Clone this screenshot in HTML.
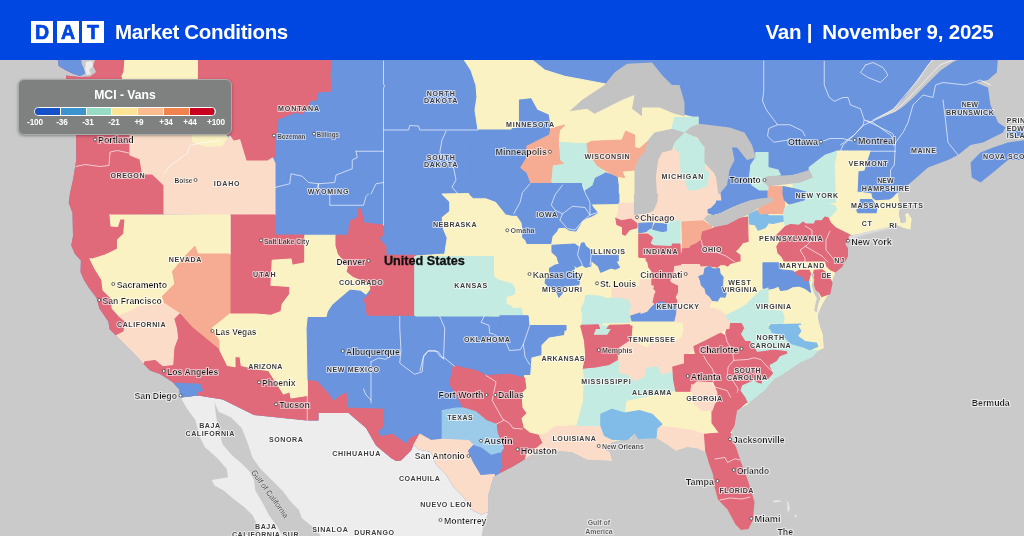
<!DOCTYPE html>
<html lang="en"><head><meta charset="utf-8"><title>DAT Market Conditions</title>
<style>
html,body{margin:0;padding:0;background:#cacaca;}
body{width:1024px;height:536px;overflow:hidden;position:relative;font-family:"Liberation Sans",sans-serif;}
#map{position:absolute;left:0;top:0;width:1024px;height:536px;display:block;}
#hdr{will-change:transform;position:absolute;left:0;top:0;width:1024px;height:60.4px;background:#0046e1;color:#fff;}
#hdr .logo{position:absolute;top:21px;height:22px;width:22px;background:#fff;color:#0046e1;font-weight:bold;font-size:19.5px;line-height:22.5px;text-align:center;-webkit-text-stroke:0.7px #0046e1;}
#hdr .t1{position:absolute;left:115px;top:18.5px;font-size:20.5px;font-weight:bold;line-height:26px;letter-spacing:-0.35px;white-space:nowrap;}
#hdr .t2{position:absolute;right:30.5px;top:18.5px;font-size:20.5px;font-weight:bold;line-height:26px;letter-spacing:-0.2px;white-space:nowrap;}
#leg{will-change:transform;position:absolute;left:18px;top:79px;width:212px;height:54px;background:#7f8181;border:1px solid #a9abab;border-radius:6px;box-shadow:0 1px 3px rgba(0,0,0,.35);color:#fff;}
#leg .ttl{position:absolute;left:0;width:212px;top:7px;text-align:center;font-weight:bold;font-size:12.2px;line-height:16px;}
#leg .bar{position:absolute;left:15px;top:27px;width:179.5px;height:7px;border:1px solid #fff;border-radius:5px;overflow:hidden;display:flex;}
#leg .bar i{display:block;flex:1;border-right:1px solid #fff;}
#leg .bar i:last-child{border-right:0;}
#leg .lb{position:absolute;top:38px;font-size:8.2px;font-weight:bold;line-height:10px;width:30px;margin-left:-14px;text-align:center;letter-spacing:-0.1px;}
svg text{font-family:"Liberation Sans",sans-serif;}
</style></head><body>
<svg id="map" viewBox="0 0 1024 536" width="1024" height="536">
<rect x="0" y="0" width="1024" height="536" fill="#cacaca"/>

<defs><filter id="halo" x="-10%" y="-40%" width="120%" height="180%"><feMorphology in="SourceAlpha" operator="dilate" radius="0.8" result="d"/><feGaussianBlur in="d" stdDeviation="0.4" result="b"/><feFlood flood-color="#fff" flood-opacity="0.6"/><feComposite in2="b" operator="in" result="h"/><feMerge><feMergeNode in="h"/><feMergeNode in="SourceGraphic"/></feMerge></filter><filter id="halo2" x="-10%" y="-40%" width="120%" height="180%"><feMorphology in="SourceAlpha" operator="dilate" radius="0.5" result="d"/><feGaussianBlur in="d" stdDeviation="0.3" result="b"/><feFlood flood-color="#fff" flood-opacity="0.6"/><feComposite in2="b" operator="in" result="h"/><feMerge><feMergeNode in="h"/><feMergeNode in="SourceGraphic"/></feMerge></filter><clipPath id="land">
<path d="M95,58 L93,66 L96,72 L90,76 L80,77 L66,75.5 L66,80 L68,100 L72,120 L76,134 L76.25,160 L73,180 L70,193 L68.75,203 L72.5,213 L73,236 L71.25,245.5 L75,254 L80.9,260.5 L80.5,272 L84,280 L88.7,287.4 L96.6,297.9 L99.2,308.3 L108.3,321.4 L109.6,329.2 L116.1,335.7 L125.3,344.9 L135.7,355.3 L143,363.5 L150,370.5 L160,374 L172.5,382 L179,389 L181,397.5 L198,395.5 L222.7,399.5 L254,415 L307,420.5 L318.5,420.5 L318.5,413 L348.5,413 L366,428 L376,445.5 L391,458 L396,461 L401,460.5 L411,450.5 L413.5,444.5 L418.5,449.5 L431,452 L436,464.5 L446,474.5 L453.5,487 L463.5,497 L471,509.5 L481,514.5 L488.5,512 L488.5,494.5 L493.5,477 L502,472 L512,467 L524.5,459.5 L537,452 L557,450.75 L572,452 L587,459.5 L612,460.75 L609.5,452 L604.5,449.5 L612,442 L629.5,439.5 L657,438.25 L667,444.5 L675.75,450.75 L687,447 L697,448.25 L705.75,452 L708.5,462 L713,474.5 L714.5,487 L718,499.5 L727.5,509.5 L735.5,524.5 L741,530 L748.5,529 L753,520 L754.5,502 L748.5,482 L741,462 L736,447 L730.5,437 L734.5,425.5 L737,410.5 L748.8,404 L750.4,401.5 L758.2,395.2 L764.5,390.5 L769.2,384.3 L775.4,378 L781.7,374.9 L791.1,368.6 L800.5,362.3 L811.5,357.6 L817.8,351.3 L824,348.2 L823.3,335.7 L820.5,328 L819,322 L818,316 L819,312 L823,303.5 L827,297 L830.5,293.5 L832,286 L833,278.5 L836,272 L842,267 L845.5,261 L848,256.5 L848,248 L845,244 L848,241.5 L849,235.5 L858,234.5 L872,231 L885.5,228.5 L896,225 L903,228 L910.5,230 L912,219 L908,212.5 L905,214 L906,222 L901,223 L899,214 L900.5,206.5 L898,194 L908,185 L928,167.5 L948,160 L958,155 L970.5,145 L983,142.5 L1003,132.5 L1005.5,127.5 L998,122.5 L990.5,105 L988,87.5 L975.5,82.5 L988,80 L996.75,72.5 L998,58Z"/>
<path d="M57.5,58 L58.75,66 L65,69.75 L72.5,73.5 L80,76 L85,73.5 L83.75,68.5 L81.25,63.5 L81.25,58Z"/>
<path d="M970.5,162.5 L980.5,152.5 L993,147.5 L1008,142.5 L1026,140 L1026,160 L1008,160 L993,172.5 L980.5,182.5 L971.75,177.5Z"/>
<path d="M1006,131 L1026,128 L1026,136 L1010,137Z"/>
</clipPath></defs>
<path d="M180.4,397.5 L198,395.5 L222.7,399.5 L254,415 L307,420.5 L318.5,420.5 L318.5,413 L348.5,413 L366,428 L376,445.5 L391,458 L396,461 L401,460.5 L411,450.5 L413.5,444.5 L418.5,449.5 L431,452 L436,464.5 L446,474.5 L453.5,487 L463.5,497 L471,509.5 L481,514.5 L488.5,512 L483.5,524.5 L481,540 L322,540 L320.8,536 L315.3,529 L308.5,523.5 L301.7,518.1 L299,509.9 L290.8,501.7 L282.6,490.8 L271.7,479.9 L260.8,469 L252.6,458.1 L247.2,441.8 L241.7,428.1 L230.8,417.2 L218.6,411.8 L214.5,402.3Z" fill="#ededed"/>
<path d="M180.4,396.8 L187.2,409 L195.4,420 L199.5,436.3 L205,447.2 L217.2,458 L226.8,469 L228,477.2 L211.8,480 L214.5,485.4 L224,490.8 L233.6,499 L244.5,507.2 L252.6,515.3 L258,526.2 L260.8,540 L284,540 L282.6,536 L277.2,526.2 L269,515.3 L263.5,504.4 L255.4,490.8 L254,479.9 L249.9,471.7 L241.7,463.6 L232.2,455.4 L222.7,444.5 L218.6,430.9 L215.9,414.5 L214.5,402.3 L200,397Z" fill="#ededed"/>
<g clip-path="url(#land)">
<rect x="0" y="0" width="1024" height="536" fill="#6b94de"/>
<path d="M463,58 L529.5,58 L544.5,70 L564.5,76.25 L604.5,83.75 L650,95 L675,113 L692,117 L712,150 L716,199 L708,210 L712.5,215 L740,204 L768,200 L775,190 L768,181 L809,172 L837,151 L870,151 L867,160 L864,170 L858,171 L857,192 L873,194 L875.5,199.5 L889,199 L893,196.5 L898,193 L1024,193 L1024,540 L539.5,540 L539.5,435.5 L529.5,433 L523.25,428 L520.75,418 L525.75,413 L522,408 L520.75,393 L525.75,388 L524.5,375.5 L530.75,375.5 L532,358 L542,355.5 L542,345.5 L549.5,338 L564.5,335.5 L566,325.5 L529,325.5 L529,315.8 L490,315.8 L490,258 L416,258 L416,256 L444.75,254 L447.25,237.75 L443.5,229 L442.25,217.75 L449.75,211.5 L449.75,201.5 L442.25,194 L470,193.5 L472,196 L490,196 L490,132 L478,130 L475,110 L477,97 L476,85 L471,70Z" fill="#fbf2c3" stroke="#fbf2c3" stroke-width="1.1" stroke-linejoin="round"/>
<path d="M55,58 L125,58 L124,72 L122,76 L128,100 L130,134 L130,155 L140,159 L142.5,174 L152.5,174 L164,185 L164,214 L110,214.5 L111,226 L117.5,226.5 L120,219 L125,219 L123.75,234 L117.5,240 L117.5,249 L110,252.75 L105,255 L92.5,259 L90,256.5 L95.2,269.2 L101.8,279.6 L103,290 L110.9,297.9 L112.2,308.3 L119,316 L125.3,321.4 L124,331.8 L116.1,335.7 L117.5,338 L100,337 L55,300Z" fill="#e0697a" stroke="#e0697a" stroke-width="1.1" stroke-linejoin="round"/>
<path d="M125,58 L198.5,58 L198.5,79 L225,134 L230,140 L222,147 L205,147 L192,143 L191,134 L130,134 L128,100 L122,76 L124,72Z" fill="#fbf2c3" stroke="#fbf2c3" stroke-width="1.1" stroke-linejoin="round"/>
<path d="M130,134 L191,134 L192,143 L205,147 L222,147 L230.5,135 L234,140 L240.5,138.5 L247,160 L267,160 L272,157 L275,163.5 L275,215 L164,214 L164,185 L152.5,174 L142.5,174 L140,159 L130,155Z" fill="#fbdcc9" stroke="#fbdcc9" stroke-width="1.1" stroke-linejoin="round"/>
<path d="M198.5,58 L331,58 L330,75 L331,91 L318,92 L316,100 L310,101 L308,107 L301,114 L296,112 L278,119 L277,132 L275,135 L275,157 L272,157 L267,160 L247,160 L240.5,138.5 L234,140 L230.5,135 L225,134 L198.5,79Z" fill="#e0697a" stroke="#e0697a" stroke-width="1.1" stroke-linejoin="round"/>
<path d="M230,215 L275,215 L275,235 L305,235 L305,263 L292,265 L291,259 L272,260 L271,285 L290,286.5 L290,294 L282,304 L281,311.5 L271,315 L256,314 L230,314Z" fill="#e0697a" stroke="#e0697a" stroke-width="1.1" stroke-linejoin="round"/>
<path d="M110,215 L230,215 L230,254 L197.5,254 L195,246.5 L185,256.5 L172.5,271.5 L175,284 L162.5,296.5 L165,304 L140,306.5 L130,311.5 L119,316 L112.2,308.3 L110.9,297.9 L103,290 L101.8,279.6 L95.2,269.2 L90,258.7 L92.5,259 L105,255 L110,252.75 L117.5,249 L117.5,240 L123.75,234 L125,219 L120,219 L117.5,226.5 L111,226 L110,214.5Z" fill="#fbf2c3" stroke="#fbf2c3" stroke-width="1.1" stroke-linejoin="round"/>
<path d="M195,246.5 L197.5,254 L230,254 L230,314 L212.5,328 L220,340.5 L220,350.5 L192.5,328 L180,314 L165,304 L162.5,296.5 L175,284 L172.5,271.5 L185,256.5Z" fill="#f6ac92" stroke="#f6ac92" stroke-width="1.1" stroke-linejoin="round"/>
<path d="M119,316 L130,311.5 L140,306.5 L165,304 L180,314 L175,319 L177.5,328 L178.75,338 L175,348 L173.75,365.5 L162.5,366.75 L155,360.5 L145,361.75 L146,367 L128,368 L120,349.25 L112,336.75 L116.1,335.7 L124,331.8 L125.3,321.4Z" fill="#fbdcc9" stroke="#fbdcc9" stroke-width="1.1" stroke-linejoin="round"/>
<path d="M175,319 L180,314 L192.5,328 L220,350.5 L222.5,355.5 L227.5,365.5 L235,366.75 L235,356.75 L240,356.75 L241.25,365.5 L256,368 L268.5,370.5 L283.5,394 L289.75,391.75 L291,398 L307.25,395.5 L307.25,380.5 L317.25,381.75 L328.5,394 L333.5,401.75 L341,395.5 L346,393 L347.25,408 L383.5,409.25 L383.5,425.5 L377.25,431.75 L381,436.75 L392.25,434.25 L406,444.25 L411,438 L419.75,434.25 L413.5,445.5 L411,450.5 L401,465 L380,475 L300,445 L180,415 L165,385 L172.5,382 L160,377 L150,373 L143,366 L145,361.75 L155,360.5 L162.5,366.75 L173.75,365.5 L175,348 L178.75,338 L177.5,328Z" fill="#e0697a" stroke="#e0697a" stroke-width="1.1" stroke-linejoin="round"/>
<path d="M175,383 L200,384.25 L202.5,390.5 L197.5,391.75 L197.5,399 L180,401 L176,389.25Z" fill="#6b94de" stroke="#6b94de" stroke-width="1.1" stroke-linejoin="round"/>
<path d="M304.75,235.25 L336,235.25 L336,245.25 L338.5,254 L348.5,266.5 L347.25,271.5 L353.5,276.5 L368.5,282.75 L371,287.75 L366,294 L361,290.25 L349.75,289 L341,296.5 L332.25,304 L327.25,311.5 L326,316.5 L307.25,316.5 L306,328 L307.25,395.5 L291,398 L289.75,391.75 L283.5,394 L268.5,370.5 L256,369 L241.25,365.5 L240,356.75 L235,356.75 L235,366.75 L227.5,365.5 L222.5,355.5 L220,350.5 L220,340.5 L212.5,328 L230,314 L256,314 L271,315.25 L281,311.5 L282.25,304 L289.75,294 L289.75,286.5 L271,285.25 L272.25,260.25 L291,259 L292.25,265.25 L304.75,262.75Z" fill="#fbf2c3" stroke="#fbf2c3" stroke-width="1.1" stroke-linejoin="round"/>
<path d="M336,235.25 L348.5,235.25 L349.75,221.5 L357.25,217.75 L358.5,209 L361,209 L363.5,222.75 L383.5,225.25 L383.5,235.25 L378.5,237.75 L386,246.5 L386,255.25 L414.75,255.25 L414.75,315.25 L367.25,315.25 L366,304 L363.5,300.25 L369.75,294 L371,287.75 L368.5,282.75 L353.5,276.5 L347.25,271.5 L348.5,266.5 L338.5,254 L336,245.25Z" fill="#e0697a" stroke="#e0697a" stroke-width="1.1" stroke-linejoin="round"/>
<path d="M414.75,256.5 L493.5,256.5 L493.5,276.5 L498.5,280.25 L512,284 L514.5,288 L514.5,293.5 L512,295 L506,296.5 L506,304 L512,306.5 L512,308.5 L521,308 L523,316 L512,316 L416,316 L414.75,315Z" fill="#c4ebe1" stroke="#c4ebe1" stroke-width="1.1" stroke-linejoin="round"/>
<path d="M453.5,365.5 L463.5,368 L476,370.5 L486,375.5 L512,374.2 L512,375 L524.5,378 L525.8,388 L520.8,393 L522,408 L525.8,413 L520.8,418 L523.2,428 L529.5,433 L539.5,435.5 L543.2,443 L537,448 L527,453 L523.2,478 L499.8,478 L503.5,448 L497.2,433 L496,424.2 L486,420.5 L476,411.8 L463.5,408 L454.8,391.8 L449.8,384.2Z" fill="#e0697a" stroke="#e0697a" stroke-width="1.1" stroke-linejoin="round"/>
<path d="M442.2,410.5 L456,408 L463.5,408 L476,411.8 L486,420.5 L496,424.2 L497.2,433 L503.5,448 L499.8,453 L491,455.5 L481,448 L473.5,445.5 L468.5,440.5 L442.2,439.2Z" fill="#9bcbe9" stroke="#9bcbe9" stroke-width="1.1" stroke-linejoin="round"/>
<path d="M419.8,434.2 L431,440.5 L442.2,439.2 L468.5,440.5 L473.5,445.5 L468.5,453 L473.5,452 L481,474.5 L493.5,472 L496,482 L496,517 L471,517 L431,477 L418.5,449.5 L413.5,445.5Z" fill="#fbdcc9" stroke="#fbdcc9" stroke-width="1.1" stroke-linejoin="round"/>
<path d="M473.5,445.5 L481,448 L491,455.5 L499.8,453 L502.2,467 L496,473.2 L481,474.5 L473.5,462 L468.5,450.8Z" fill="#6b94de" stroke="#6b94de" stroke-width="1.1" stroke-linejoin="round"/>
<path d="M547,433 L554.5,426.8 L577,425.5 L600.8,425.5 L604.5,435.5 L612,438 L617,445.5 L617,468 L523.2,468 L527,453 L537,448 L543.2,443 L539.5,435.5Z" fill="#fbdcc9" stroke="#fbdcc9" stroke-width="1.1" stroke-linejoin="round"/>
<path d="M655.8,428 L662,426.8 L677,428 L692,430.5 L704.5,434.2 L705.8,448 L705.8,458 L655.8,458Z" fill="#fbdcc9" stroke="#fbdcc9" stroke-width="1.1" stroke-linejoin="round"/>
<path d="M580.8,326 L597,326 L597,328 L594.5,334.2 L607,334.2 L610.8,328 L610.8,326 L632,326 L630.8,340.5 L619.5,348 L618.2,360.5 L609.5,365.5 L595.8,368 L583.2,369.2 L585.8,355.5 L584.5,340.5Z" fill="#e0697a" stroke="#e0697a" stroke-width="1.1" stroke-linejoin="round"/>
<path d="M597,326 L610.8,326 L610.8,328 L607,334.2 L594.5,334.2 L597,328Z" fill="#c4ebe1" stroke="#c4ebe1" stroke-width="1.1" stroke-linejoin="round"/>
<path d="M619.5,348 L630.8,340.5 L647,348 L652,343 L672,343 L682,338 L684.5,328 L684.5,326 L727,326 L727,328 L712,338 L695.8,344.2 L697,348 L684.5,355.5 L684.5,364.2 L672,366.8 L672,371.8 L662,375.5 L657,366.8 L647,368 L644.5,378 L634.5,381.8 L627,375.5 L618.2,373 L618.2,360.5Z" fill="#fbdcc9" stroke="#fbdcc9" stroke-width="1.1" stroke-linejoin="round"/>
<path d="M583.2,369.2 L595.8,368 L609.5,365.5 L618.2,360.5 L618.2,373 L627,375.5 L634.5,381.8 L644.5,378 L647,368 L657,366.8 L662,375.5 L672,371.8 L674.5,390.5 L662,393 L632,399.2 L625.8,400.5 L624.5,413 L612,409.2 L602,414.2 L600.8,425.5 L577,425.5 L579.5,415.5 L583.2,403 L584.5,378Z" fill="#c4ebe1" stroke="#c4ebe1" stroke-width="1.1" stroke-linejoin="round"/>
<path d="M600.8,414.2 L612,409.2 L624.5,413 L639.5,410.5 L652,414.2 L662,424.2 L657,428 L655.8,439.2 L639.5,440.5 L634.5,433 L627,440.5 L612,439.2 L604.5,435.5 L600.8,425.5Z" fill="#80bce7" stroke="#80bce7" stroke-width="1.1" stroke-linejoin="round"/>
<path d="M730,324.7 L741,323.9 L744.1,329.4 L741.7,334.1 L745.7,340.4 L750.4,340.4 L757.4,351.3 L773.9,349 L787.2,350.6 L788,353.7 L780.2,356.8 L777,361.5 L770,365.5 L773.9,373.3 L768.4,379.6 L762.9,380.3 L762.1,384.3 L758.2,383.5 L753.5,381.1 L742.5,385.8 L741,390.5 L745.7,396.8 L748.8,404 L748.2,400.5 L737,410.5 L734.5,425.5 L729.5,433 L719.5,433 L712,423 L712,410.5 L714.5,400.5 L719.5,389.2 L717.5,399.9 L716.7,392.1 L712.8,382.7 L697.1,381.9 L692.4,385.8 L690.8,391.3 L675.9,391.3 L673.6,379.6 L672.8,367 L684.5,363.9 L684.5,354.5 L695.5,354.5 L693.9,346.6 L703.3,341.9 L720.6,333.3 L725.3,335.7 L726.1,331Z" fill="#e0697a" stroke="#e0697a" stroke-width="1.1" stroke-linejoin="round"/>
<path d="M741,323.9 L769.2,326.3 L772.3,332.5 L781.7,334.1 L791.1,343.5 L802.1,346.6 L809.9,349.8 L822.5,351.3 L822.5,360.8 L797.4,371.7 L780.2,382.7 L773.9,373.3 L770,365.5 L777,361.5 L780.2,356.8 L788,353.7 L787.2,350.6 L773.9,349 L757.4,351.3 L750.4,340.4 L745.7,340.4 L741.7,334.1 L744.1,329.4Z" fill="#c4ebe1" stroke="#c4ebe1" stroke-width="1.1" stroke-linejoin="round"/>
<path d="M769.2,326.3 L799,325.5 L802.1,331 L799,335.7 L805.2,340.4 L816.2,341.9 L817.8,346.6 L809.9,349.8 L802.1,346.6 L791.1,343.5 L781.7,334.1 L772.3,332.5Z" fill="#80bce7" stroke="#80bce7" stroke-width="1.1" stroke-linejoin="round"/>
<path d="M742.5,385.8 L753.5,381.1 L758.2,383.5 L762.1,384.3 L762.9,380.3 L768.4,379.6 L773.9,373.3 L781.7,376.4 L769.2,393.7 L750.4,407.8 L748.8,404 L745.7,396.8 L741,390.5Z" fill="#c4ebe1" stroke="#c4ebe1" stroke-width="1.1" stroke-linejoin="round"/>
<path d="M692.4,385.8 L697.1,381.9 L712.8,382.7 L716.7,392.1 L717.5,399.9 L714.3,404 L712,410.5 L702,410.5 L694.5,403 L692,391.8 L692,384.2 L690.8,391.3Z" fill="#fbdcc9" stroke="#fbdcc9" stroke-width="1.1" stroke-linejoin="round"/>
<path d="M704.5,434.2 L719.5,433 L729.5,433 L737,438 L752,453 L780,540 L700,540 L705.8,452 L704.5,434.5Z" fill="#e0697a" stroke="#e0697a" stroke-width="1.1" stroke-linejoin="round"/>
<path d="M673.1,265.4 L700,263.5 L701.2,266 L705,265.4 L705,268.5 L703.8,274.8 L698.8,276.6 L700.6,281 L701.2,284.8 L705,288.5 L706.2,293.5 L709.4,296 L712.5,300.4 L710,303.5 L709.4,308.5 L715,308.5 L720,311 L726.2,316 L730,322.2 L730,328.5 L683.8,328.5 L683.1,322.2 L673.8,321.6 L675.6,313.5 L676.2,304.1 L676.9,301 L675,297.2 L677.5,292.2 L677.5,286 L671.2,282.9 L668.8,279.8 L671.2,278.5 L673.1,271Z" fill="#fbdcc9" stroke="#fbdcc9" stroke-width="1.1" stroke-linejoin="round"/>
<path d="M478,130 L512,130 L512,128.8 L519.5,127.5 L519.5,100 L530.8,98.8 L537,110 L548.2,115 L549.5,122.5 L549.5,135 L527,146.2 L527,157.5 L520.8,167.5 L527,172.5 L530.8,182.5 L550.8,182.5 L552,182.5 L582,182.5 L580.8,177.5 L584.5,190 L592,185 L594.5,177.5 L604.5,172.5 L617,176.2 L618.2,185 L618.2,194 L618.9,194 L618.9,203.4 L590.8,204 L593.2,207.8 L597.6,212.8 L590.8,216.5 L587,217.8 L582,220.9 L579.5,225.2 L575.8,230.9 L569.5,230.2 L564.5,227.1 L558.2,227.8 L556.4,231.5 L552,236.5 L550.8,243.4 L527,243.4 L525.8,240.2 L522.6,237.1 L523.2,230.2 L522,222.8 L517,215.2 L512,215.2 L506,214 L496,201.5 L486,197.75 L473.5,197.75 L469.75,194 L470,150Z" fill="#6b94de" stroke="#6b94de" stroke-width="1.1" stroke-linejoin="round"/>
<path d="M564.5,125 L559.5,130 L558.2,141.2 L560.8,160 L565.8,163.8 L553.2,165 L550.8,182.5 L530.8,182.5 L527,172.5 L520.8,167.5 L527,157.5 L527,146.2 L549.5,135 L550.8,128.8Z" fill="#f6ac92" stroke="#f6ac92" stroke-width="1.1" stroke-linejoin="round"/>
<path d="M559.5,142.5 L587,143.8 L588.2,152.5 L597,165 L604.5,172.5 L594.5,177.5 L592,185 L584.5,190 L580.8,177.5 L582,182.5 L552,182.5 L553.2,166.2 L565.8,163.8 L560.8,160Z" fill="#c4ebe1" stroke="#c4ebe1" stroke-width="1.1" stroke-linejoin="round"/>
<path d="M587,143.8 L592,141.2 L622,140 L625.8,131.2 L634.5,135 L634.5,147.5 L639.5,148.8 L648.2,141.2 L644.5,152.5 L638.2,158.8 L634.5,170 L622,171.2 L624.5,177.5 L617,176.2 L604.5,170 L597,165 L588.2,152.5Z" fill="#f6ac92" stroke="#f6ac92" stroke-width="1.1" stroke-linejoin="round"/>
<path d="M552,245.2 L574.5,244 L579.5,247.8 L581.4,243.4 L583.9,242.8 L585.8,246.5 L592,251.5 L592,261 L590.8,261 L590.8,266 L585.8,267.2 L582,264.8 L577,267.2 L573.2,264.8 L563.2,263.5 L559.5,264.1 L558.2,261 L557,256.5 L552,252.1Z" fill="#6b94de" stroke="#6b94de" stroke-width="1.1" stroke-linejoin="round"/>
<path d="M592,255.2 L618.2,255.2 L618.2,261 L615.8,261 L619.5,267.2 L615.8,269.1 L610.8,267.9 L600.8,272.2 L598.2,266 L592,261Z" fill="#6b94de" stroke="#6b94de" stroke-width="1.1" stroke-linejoin="round"/>
<path d="M549.5,268.5 L554.5,265.4 L562,263.5 L573.2,264.8 L574.5,268.5 L572,271.6 L579.5,278.5 L578.9,284.8 L564.5,286 L562,293.5 L558.9,297.2 L557,292.2 L548.2,286 L545.1,282.9 L545.8,278.5 L550.8,276.6 L549.5,272.2Z" fill="#6b94de" stroke="#6b94de" stroke-width="1.1" stroke-linejoin="round"/>
<path d="M585.8,295.4 L599.5,296 L607,298.5 L619.5,297.2 L629.5,299.8 L632,307.2 L629.5,311 L630.8,316 L629.5,322.2 L602,322.9 L602,328 L599.5,328 L598.2,324.8 L582,324.8 L582.6,316 L581.4,308.5 L584.5,302.2Z" fill="#c4ebe1" stroke="#c4ebe1" stroke-width="1.1" stroke-linejoin="round"/>
<path d="M612,287.2 L640,286 L640,279.8 L651.9,279.8 L651.9,284.8 L655,285.4 L653.8,288.5 L656.2,291 L654.4,296 L653.1,302.2 L655,304.1 L650.6,308.5 L647.5,312.2 L640,314.8 L640,312.9 L630.8,316 L629.5,311 L632,307.2 L629.5,299.8 L619.5,297.2 L612,297.2Z" fill="#fbdcc9" stroke="#fbdcc9" stroke-width="1.1" stroke-linejoin="round"/>
<path d="M630.8,316 L640,312.9 L640,314.8 L647.5,312.2 L650.6,308.5 L655,304.1 L658.8,301.6 L664.4,301.6 L667.5,303.5 L676.2,304.1 L675.6,313.5 L673.8,321 L640,321 L632,321Z" fill="#6b94de" stroke="#6b94de" stroke-width="1.1" stroke-linejoin="round"/>
<path d="M581.4,325.4 L598.2,324.8 L599.5,328.5 L581.4,328.5Z" fill="#e0697a" stroke="#e0697a" stroke-width="1.1" stroke-linejoin="round"/>
<path d="M607,328.5 L609.5,325.4 L629.5,324.8 L630.8,328.5Z" fill="#e0697a" stroke="#e0697a" stroke-width="1.1" stroke-linejoin="round"/>
<path d="M500,315.8 L528,315.8 L529,325.5 L566,325.5 L566,330 L500,330Z" fill="#6b94de" stroke="#6b94de" stroke-width="1.1" stroke-linejoin="round"/>
<path d="M618.9,203.4 L633.9,203.4 L635.1,209 L662,209 L662,220.9 L637,220.9 L630.8,219 L622,220.9 L615.8,218.4 L618.2,212.8Z" fill="#fbdcc9" stroke="#fbdcc9" stroke-width="1.1" stroke-linejoin="round"/>
<path d="M615.8,218.4 L622,220.9 L630.8,219 L637,223.4 L637,227.8 L629.5,229.6 L625.1,235.2 L622.6,234 L622.6,227.1 L617,224.6Z" fill="#e0697a" stroke="#e0697a" stroke-width="1.1" stroke-linejoin="round"/>
<path d="M652.5,189 L717.5,189 L717.5,194 L715,202.8 L708.1,210.2 L707.5,215.2 L703.8,219 L703.1,220.9 L682.5,221.5 L680,220.9 L657.5,221.5 L653.8,210.2Z" fill="#fbdcc9" stroke="#fbdcc9" stroke-width="1.1" stroke-linejoin="round"/>
<path d="M638.8,223.4 L652.5,222.8 L651.2,229 L647.5,231.5 L638.8,232.8Z" fill="#6b94de" stroke="#6b94de" stroke-width="1.1" stroke-linejoin="round"/>
<path d="M653.1,227.1 L655,223.4 L666.9,224 L667.5,231.5 L662.5,232.8 L652.5,230.2Z" fill="#6b94de" stroke="#6b94de" stroke-width="1.1" stroke-linejoin="round"/>
<path d="M667.5,220.9 L680,220.9 L680,244 L672.5,244 L671.9,246.5 L653.8,245.9 L650,243.4 L652.5,237.8 L650,234 L647.5,231.5 L651.2,229 L652.5,230.2 L662.5,232.8 L667.5,231.5Z" fill="#c4ebe1" stroke="#c4ebe1" stroke-width="1.1" stroke-linejoin="round"/>
<path d="M638.8,234 L647.5,234 L652.5,237.8 L650,243.4 L653.8,245.9 L671.9,246.5 L672.5,244 L680,244 L680.6,261 L681.2,263.5 L680.6,264.8 L673.8,265.4 L673.1,271 L671.2,278.5 L668.8,279.8 L671.2,282.9 L677.5,286 L677.5,292.2 L675,297.2 L676.9,301 L676.2,303.5 L667.5,303.5 L664.4,301 L658.8,301 L655,303.5 L653.1,302.2 L654.4,296 L656.2,291 L653.8,288.5 L655,285.4 L651.9,284.8 L651.9,271 L648.8,267.2 L647.5,261 L646.2,261 L646.2,257.8 L638.8,257.1Z" fill="#e0697a" stroke="#e0697a" stroke-width="1.1" stroke-linejoin="round"/>
<path d="M681.9,222.1 L703.1,220.9 L711.2,225.9 L711.9,229 L702.5,232.1 L701.2,240.2 L696.9,243.4 L691.2,245.9 L689.4,248.4 L682.5,249Z" fill="#f6ac92" stroke="#f6ac92" stroke-width="1.1" stroke-linejoin="round"/>
<path d="M711.9,229 L715,227.1 L727.5,224.6 L738.8,218.4 L747.5,217.1 L748.1,241.5 L742.5,242.8 L738.8,247.8 L735,251.5 L740,255.2 L740,261 L738.8,261 L735,262.2 L730,263.5 L727.5,266 L725,264.8 L720,264.8 L717.5,267.2 L710,266 L705,265.4 L701.2,266 L700,263.5 L681.2,263.5 L680.6,261 L682.5,249 L689.4,248.4 L691.2,245.9 L696.9,243.4 L701.2,240.2 L702.5,232.1Z" fill="#e0697a" stroke="#e0697a" stroke-width="1.1" stroke-linejoin="round"/>
<path d="M698.8,276.6 L703.8,274.8 L705,268.5 L708.8,266.6 L713.8,269.1 L719.4,268.5 L720,273.5 L723.1,277.2 L722.5,286 L726.2,293.5 L725,297.2 L720,296.6 L717.5,301 L712.5,300.4 L709.4,296 L706.2,293.5 L705,288.5 L701.2,284.8 L700.6,281Z" fill="#6b94de" stroke="#6b94de" stroke-width="1.1" stroke-linejoin="round"/>
<path d="M717.5,189 L770,189 L770,197.8 L760,197.8 L750,199.6 L740,203.4 L730,207.8 L720,212.8 L712.5,214.6 L708.1,212.8 L708.1,209.6 L715,207.8 L717.5,204 L716.2,199Z" fill="#6b94de" stroke="#6b94de" stroke-width="1.1" stroke-linejoin="round"/>
<path d="M748.8,214.6 L757.5,210.2 L760,214 L768,214.6 L768,215.9 L783.6,215.9 L784.2,220.9 L773,223.4 L768,222.8 L768,224 L765,227.8 L758.1,230.2 L755,224.6 L749.4,224Z" fill="#80bce7" stroke="#80bce7" stroke-width="1.1" stroke-linejoin="round"/>
<path d="M760,207.1 L768,203.4 L768,186.5 L770.5,186 L781.8,186.5 L782.4,194 L784.2,201.5 L784.9,207.8 L783.6,213.4 L768,213.4 L760,214 L758.1,210.2Z" fill="#f6ac92" stroke="#f6ac92" stroke-width="1.1" stroke-linejoin="round"/>
<path d="M784.9,207.8 L793,203.4 L804.2,200.9 L820.5,201.5 L834.2,205.2 L836.8,209 L833,214 L828,217.8 L824.9,217.1 L821.8,220.9 L815.5,220.9 L814.2,224 L805.5,224 L803,222.1 L799.2,225.2 L790.5,224.6 L785.5,226.5 L784.2,220.9 L783.6,213.4Z" fill="#c4ebe1" stroke="#c4ebe1" stroke-width="1.1" stroke-linejoin="round"/>
<path d="M785.5,226.5 L790.5,224.6 L799.2,225.2 L803,222.1 L805.5,224 L814.2,224 L815.5,220.9 L821.8,220.9 L824.9,217.1 L828,217.8 L830.5,222.8 L835.5,227.8 L843,231.5 L850.5,235.2 L850.5,261 L850.5,261 L841.8,267.2 L836.1,272.2 L830.5,269.8 L826.8,266 L825.5,261 L784.2,261 L781.8,256.5 L778,252.8 L776.8,246.5 L779.9,241.5 L775.5,236.5 L780.5,231.5Z" fill="#e0697a" stroke="#e0697a" stroke-width="1.1" stroke-linejoin="round"/>
<path d="M871.8,192.8 L896,192.8 L893,196.5 L889.2,199 L875.5,199.6 L873,197.8Z" fill="#6b94de" stroke="#6b94de" stroke-width="1.1" stroke-linejoin="round"/>
<path d="M860.5,199.6 L871.8,199.6 L876.8,207.8 L876.1,212.8 L858,212.8 L856.8,210.2 L859.9,206.5Z" fill="#6b94de" stroke="#6b94de" stroke-width="1.1" stroke-linejoin="round"/>
<path d="M809.2,167.5 L825.5,155 L836.8,151.2 L834.2,165 L835.5,202.5 L793,202.5 L793,180 L813,177.5 L809.2,172.5Z" fill="#c4ebe1" stroke="#c4ebe1" stroke-width="1.1" stroke-linejoin="round"/>
<path d="M755.8,152.5 L768,152.5 L768,167.5 L778,170 L780.5,175 L768,176.2 L768,190 L759.5,190 L752,185 L749.5,177.5 L750.8,165 L755.8,157.5Z" fill="#c4ebe1" stroke="#c4ebe1" stroke-width="1.1" stroke-linejoin="round"/>
<path d="M814.2,270.4 L821.8,269.8 L825.5,272.2 L830.5,279.8 L834.2,286 L833,293.5 L826.8,294.8 L821.8,296.6 L819.2,292.2 L815.5,289.8 L813.6,286 L814.9,279.8 L813.6,273.5Z" fill="#e0697a" stroke="#e0697a" stroke-width="1.1" stroke-linejoin="round"/>
<path d="M793.6,272.9 L799.2,270.4 L809.2,270.4 L810.5,273.5 L808.6,281 L804.2,281.6 L801.8,277.2 L796.8,276Z" fill="#e0697a" stroke="#e0697a" stroke-width="1.1" stroke-linejoin="round"/>
<path d="M763,262.9 L778.6,262.9 L780.5,269.8 L793,271 L796.8,276 L801.8,277.2 L804.2,281.6 L808.6,281.6 L810.5,292.2 L805.5,288.5 L799.2,286 L793,286.6 L786.8,289.8 L780.5,290.4 L778.6,286 L774.2,287.9 L768,289.1 L763,287.9Z" fill="#6b94de" stroke="#6b94de" stroke-width="1.1" stroke-linejoin="round"/>
<path d="M726.2,316 L727.5,314.8 L735,311 L740,308.5 L746.2,304.8 L752.5,298.5 L760,291 L768,287.9 L768,310.4 L781.8,311 L784.2,317.2 L783,323.5 L768,322.9 L768,328 L743.8,328 L741.2,323.5 L730.6,322.9 L730,322.2Z" fill="#c4ebe1" stroke="#c4ebe1" stroke-width="1.1" stroke-linejoin="round"/>
<path d="M730.6,323.5 L741.2,323.5 L743.8,328.5 L730,328.5Z" fill="#e0697a" stroke="#e0697a" stroke-width="1.1" stroke-linejoin="round"/>
<path d="M770.5,324.8 L800.5,324.1 L801.8,328.5 L769.2,328.5Z" fill="#80bce7" stroke="#80bce7" stroke-width="1.1" stroke-linejoin="round"/>
<path d="M799,325.5 L819.3,324.7 L822.5,335.7 L817.8,341.9 L816.2,341.9 L805.2,340.4 L799,335.7 L802.1,331Z" fill="#fbf2c3" stroke="#fbf2c3" stroke-width="1.1" stroke-linejoin="round"/>
<path d="M674.5,117.5 L698.2,117 L698.2,127.5 L684.5,132.5 L672,128.8Z" fill="#c4ebe1" stroke="#c4ebe1" stroke-width="1.1" stroke-linejoin="round"/>
<path d="M658.2,160 L663,151 L675,147.5 L682,150 L705.5,153.2 L712,162.5 L714,172.8 L718.8,184.8 L720.8,200 L655.8,200 L655.8,177.5Z" fill="#fbdcc9" stroke="#fbdcc9" stroke-width="1.1" stroke-linejoin="round"/>
<path d="M672.8,138.8 L680,132.8 L692,135.2 L701.8,143.5 L705.5,153.2 L704.2,170.2 L709,172.8 L706.8,186 L695.8,189.8 L688.5,189.8 L686,182.5 L681.2,172.8 L680,153.2 L675,148.5Z" fill="#c4ebe1" stroke="#c4ebe1" stroke-width="1.1" stroke-linejoin="round"/>
<path d="M55,58 L58.75,66 L65,69.75 L72.5,73.5 L80,76 L86,73.5 L84,68.5 L81.5,63.5 L81.5,58Z" fill="#6b94de" stroke="#6b94de" stroke-width="1.1" stroke-linejoin="round"/>
<path d="M783,186.5 L793,188.5 L806,192 L805.5,194 L804,200 L793,203 L789,204 L784.5,200 L783,194Z" fill="#6b94de" stroke="#6b94de" stroke-width="1.1" stroke-linejoin="round"/>
</g>
<path d="M569.5,111.2 L582,100 L604.5,85 L614.5,72.5 L627,63.8 L652,62.5 L662,75 L672,85 L679.5,85 L684.5,102.5 L684.5,116.2 L674.5,113.8 L659.5,107.5 L642,107.5 L642,116.2 L632,108.8 L634.5,95 L622,100 L604.5,108.8 L594.5,113.8 L587,108.8Z" fill="#c3c3c3"/>
<path d="M648.2,140 L654.5,132.5 L672,128.8 L684.5,132.5 L674.5,142.5 L672,150 L662,152.5 L658.2,160 L655.8,177.5 L657,194 L658.1,194 L657.5,201.5 L653.8,210.2 L647.5,214 L640,214 L633.9,215.2 L633.9,194 L634.5,194 L634.5,170 L638.2,158.8 L644.5,152.5Z" fill="#c3c3c3"/>
<path d="M684.5,132.5 L692,126.2 L699.5,123.8 L729.5,127.5 L744.5,132.5 L752,145 L755.8,157.5 L747,160 L737,147.5 L732,147.5 L734.5,160 L729.5,170 L727,185 L719.5,194 L718.2,194 L715.8,175 L704.5,162.5 L704.5,147.5 L697,137.5Z" fill="#c3c3c3"/>
<path d="M703.8,219 L708.1,214.6 L712.5,215.2 L720,213.4 L730,208.4 L740,204 L750,200.2 L760,198.4 L768,197.8 L772.5,196.5 L772.5,201.5 L768,203.4 L760,207.1 L748.8,214.6 L738.8,218.4 L727.5,224.6 L715,227.1 L711.2,225.9Z" fill="#c3c3c3"/>
<path d="M763,181.2 L765.5,177 L768,176.2 L793,175 L809.2,170 L813,177.5 L800.5,182.5 L780.5,185 L768,186.2Z" fill="#c3c3c3"/>
<path d="M933,57.5 L928,65 L918,78.8 L904.2,97.5 L893,108.8 L873,120 L895.5,111.8 L903,106.8 L913,98 L928,83 L940.5,70.5 L953,62 L963,57.5Z" fill="#cacaca"/>
<path d="M811.1,273.5 L813,279.8 L811.8,286 L814.2,293.5 L816.8,298.5 L815.5,303.5 L814.2,311 L816.8,312.2 L818,304.8 L820.5,298.5 L818,292.2 L815.5,289.8 L813.6,283.5 L814.2,273.5Z" fill="#cacaca"/>
<path d="M81.5,60 L84,68.5 L86,73.5 L80,76.5 L90,76.5 L96,72 L93,66 L95,60Z" fill="#cacaca"/>
<path d="M86,62 L92,61 L93,66 L89,70 L91,74 L87,75 L85,70Z" fill="#ededed"/>
<path d="M849.5,236.5 L858,234 L872,230.5 L886,227.5 L893,226.5 L893,228 L880,231 L866,234.5 L853,238.5 L849,239.5Z" fill="#dcdcdc"/>
<path d="M629.5,440.8 L634.5,433.2 L638.8,440.8Z" fill="#cacaca"/>
<path d="M772,501 L776,500 L780,500.5 L782,502 L779,502 L774,502.5Z" fill="#e4e4e4"/>
<path d="M786,500 L789,503 L790,509 L788,513 L787,508 L787.5,504Z" fill="#e4e4e4"/>
<path d="M795,514 L797,516 L796,518 L794.5,516Z" fill="#e4e4e4"/>
<g fill="none" stroke="#ffffff" stroke-opacity="0.65" stroke-width="1" stroke-linejoin="round" stroke-linecap="round">
<path d="M824.25,61.25 L824.25,85 L829.25,97.5 L834.25,101.25 L843,97.5 L848,97.5 L850.5,105 L860.5,108.75 L864.25,120 L863,125 L854.25,135 L843,145 L840.5,151.25"/>
<path d="M873,120 L893,110 L903,97.5 L918,80 L928,65 L933,60"/>
<path d="M873,121 L895,111 L908,99 L922,84 L940,65 L953,60"/>
<path d="M864.25,120 L873,122.5 L890.5,135 L895.5,142.5"/>
<path d="M840.5,145 L854,135 L864,125 L873,121"/>
<path d="M895.5,142.5 L903,132.5 L908,122.5 L913,105 L923,95 L933,97.5 L935.5,85 L943,82.5 L965.5,85 L980.5,80 L990.5,85"/>
<path d="M943,100 L945.5,120 L948,142.5 L958,155"/>
<path d="M895.5,142.5 L894.25,165 L890.5,170 L890.5,180"/>
<path d="M870.5,151.25 L895.5,151.25"/>
<path d="M865.5,65 L873,62.5 L883,67.5 L888,75 L880.5,82.5 L868,77.5 L860.5,72.5 L865.5,65"/>
<path d="M383.5,61 L383.5,84 L384.5,86 L383.5,88 L383.5,151"/>
<path d="M383.5,130 L408.5,130 L409.75,125.5 L418.5,126 L419.75,130 L478,130"/>
<path d="M356,151.25 L383.5,151.25"/>
<path d="M356,151.25 L357.25,157.5 L352.25,160 L352.25,168.75 L336,175 L334.75,182.5 L318.5,183.75 L317.25,187.5"/>
<path d="M274.75,187.5 L289.75,183.75 L291,173.75 L302.25,176.25 L308.5,182.5 L318.5,183.75"/>
<path d="M446,131.25 L442,140 L439.75,152.5 L446,160 L453.5,167.5 L456,180 L452,187 L458,194"/>
<path d="M371,194 L376,183.75 L383.5,182.5"/>
<path d="M383.5,151 L383.5,225"/>
<path d="M329.75,194 L329.75,205.25 L363.5,205.25 L366,196.5 L368.5,194"/>
<path d="M318.5,183.75 L318.5,194"/>
<path d="M399.75,316.5 L399.75,328 L401,350.5 L399.75,363 L406,368 L414.75,374.25 L422.25,371.75 L423.5,355.5 L428.5,350.5 L438.5,351.75 L443.5,359.25 L444.75,328 L439.75,316.5"/>
<path d="M371,361.75 L371,403"/>
<path d="M371,361.75 L378.5,358 L386,359.25 L392.25,354.25 L399.75,353"/>
<path d="M363.5,389 L366,395 L371,400"/>
<path d="M486,375.5 L496,381.75 L492.25,400.5 L503.5,420.5 L496,424.25"/>
<path d="M484.3,316 L481,322.3 L489,325.4 L489.7,333.2 L493.7,334 L506.2,342.6 L509.3,350.5 L520.3,349.7 L523.4,344.2 L529.7,325.4"/>
<path d="M523.4,344.2 L525,356.8 L529.7,364.6"/>
<path d="M420,370.9 L423,358.3 L427.8,351.3 L435.7,350.5 L440.4,356.8 L445,358.3 L454.5,366.2"/>
<path d="M307.25,380.5 L307.25,420.5"/>
<path d="M76,166.5 L85,164.5 L100,166.5 L109,165.5 L110,152 L117.5,150.5 L128.75,153"/>
<path d="M163.75,174.25 L170,165.5 L177.5,160.5 L187.5,153 L190,145.5 L200,143 L220,140.5"/>
<path d="M230,254 L230,215"/>
<path d="M701,240 L703,247 L709,250 L716,252 L726,256 L735,262"/>
<path d="M805,226 L812,230 L812,240 L806,246 L800,250 L805,258 L805,262"/>
<path d="M830,231 L826,240 L826,250 L831,256 L836,262"/>
<path d="M805,246 L815,252 L822,256 L828,262"/>
<path d="M715,459 L725,457.5 L727.5,462.5 L735,458.75 L740,460"/>
<path d="M720,500 L730,498 L742,499 L750,497"/>
<path d="M763.75,61 L763.75,91 L762.5,101 L766.25,109.75 L773.75,119.75 L777.5,124.75 L790,124.75 L802.5,131 L805,136"/>
<path d="M777.5,124.75 L768.75,128.5 L767.5,136 L773.75,142.25 L790,139.75 L805,141 L820,142.25 L830,138.5 L842.5,138.5 L852.5,141"/>
<path d="M866.25,121 L877.5,126 L892.5,133.5 L895,138.5 L893.75,146"/>
<path d="M503.4,419.6 L509.7,423.5 L512.9,428.2 L522.3,429"/>
<path d="M530,183.75 L522.5,192.5 L520,202.5 L513.75,213.75"/>
<path d="M562.5,185 L555,195 L551.25,205 L555,210 L562.5,213.75 L560,220"/>
<path d="M562.5,213.75 L572.5,206.25 L585,207.5 L590,215 L597.5,212.5"/>
<path d="M590,215 L590,202.5 L585,192.5 L582.5,185"/>
<path d="M560,220 L567.5,228.75 L575,230 L582.5,221.25 L590,215"/>
<path d="M580,243.75 L577.5,255 L582.5,265"/>
<path d="M591.25,255 L590,265"/>
<path d="M724.7,332.6 L727.2,341.8 L732.3,350.3 L733.9,360.3"/>
<path d="M733.9,360.3 L747.4,359.5 L754.1,357.8 L760.8,359.5 L769.2,368.7 L772.5,371.2"/>
<path d="M733.9,360.3 L728.1,367 L727.2,375.5 L733.9,382.2 L738.2,388.9 L737.3,392.3"/>
<path d="M703.7,356.1 L707.1,362 L712.1,368.7 L715.5,377.1 L712.1,383.9 L715.5,387.2 L727.2,390.6 L730.6,397.3"/>
</g>
<g id="labels" opacity="0.999">
<text x="110.5" y="178.306" font-size="7.1" font-weight="bold" fill="#3c3c3c" stroke="#fff" stroke-opacity="0.8" stroke-width="1.7" paint-order="stroke" stroke-linejoin="round" textLength="34" lengthAdjust="spacing">OREGON</text>
<text x="213.75" y="185.556" font-size="7.1" font-weight="bold" fill="#3c3c3c" stroke="#fff" stroke-opacity="0.8" stroke-width="1.7" paint-order="stroke" stroke-linejoin="round" textLength="25.75" lengthAdjust="spacing">IDAHO</text>
<text x="278" y="110.806" font-size="7.1" font-weight="bold" fill="#3c3c3c" stroke="#fff" stroke-opacity="0.8" stroke-width="1.7" paint-order="stroke" stroke-linejoin="round" textLength="41" lengthAdjust="spacing">MONTANA</text>
<text x="426.75" y="95.556" font-size="7.1" font-weight="bold" fill="#3c3c3c" stroke="#fff" stroke-opacity="0.8" stroke-width="1.7" paint-order="stroke" stroke-linejoin="round" textLength="28" lengthAdjust="spacing">NORTH</text>
<text x="424" y="102.556" font-size="7.1" font-weight="bold" fill="#3c3c3c" stroke="#fff" stroke-opacity="0.8" stroke-width="1.7" paint-order="stroke" stroke-linejoin="round" textLength="33.25" lengthAdjust="spacing">DAKOTA</text>
<text x="426.75" y="159.556" font-size="7.1" font-weight="bold" fill="#3c3c3c" stroke="#fff" stroke-opacity="0.8" stroke-width="1.7" paint-order="stroke" stroke-linejoin="round" textLength="28" lengthAdjust="spacing">SOUTH</text>
<text x="424" y="166.806" font-size="7.1" font-weight="bold" fill="#3c3c3c" stroke="#fff" stroke-opacity="0.8" stroke-width="1.7" paint-order="stroke" stroke-linejoin="round" textLength="33.25" lengthAdjust="spacing">DAKOTA</text>
<text x="307.75" y="194.306" font-size="7.1" font-weight="bold" fill="#3c3c3c" stroke="#fff" stroke-opacity="0.8" stroke-width="1.7" paint-order="stroke" stroke-linejoin="round" textLength="40.75" lengthAdjust="spacing">WYOMING</text>
<text x="506" y="126.806" font-size="7.1" font-weight="bold" fill="#3c3c3c" stroke="#fff" stroke-opacity="0.8" stroke-width="1.7" paint-order="stroke" stroke-linejoin="round" textLength="48" lengthAdjust="spacing">MINNESOTA</text>
<text x="584.5" y="158.806" font-size="7.1" font-weight="bold" fill="#3c3c3c" stroke="#fff" stroke-opacity="0.8" stroke-width="1.7" paint-order="stroke" stroke-linejoin="round" textLength="45" lengthAdjust="spacing">WISCONSIN</text>
<text x="661.5" y="178.556" font-size="7.1" font-weight="bold" fill="#3c3c3c" stroke="#fff" stroke-opacity="0.8" stroke-width="1.7" paint-order="stroke" stroke-linejoin="round" textLength="41.75" lengthAdjust="spacing">MICHIGAN</text>
<text x="848.5" y="165.556" font-size="7.1" font-weight="bold" fill="#3c3c3c" stroke="#fff" stroke-opacity="0.8" stroke-width="1.7" paint-order="stroke" stroke-linejoin="round" textLength="39" lengthAdjust="spacing">VERMONT</text>
<text x="911" y="153.056" font-size="7.1" font-weight="bold" fill="#3c3c3c" stroke="#fff" stroke-opacity="0.8" stroke-width="1.7" paint-order="stroke" stroke-linejoin="round" textLength="25" lengthAdjust="spacing">MAINE</text>
<text x="877.25" y="183.306" font-size="7.1" font-weight="bold" fill="#3c3c3c" stroke="#fff" stroke-opacity="0.8" stroke-width="1.7" paint-order="stroke" stroke-linejoin="round" textLength="16.5" lengthAdjust="spacing">NEW</text>
<text x="861.75" y="190.806" font-size="7.1" font-weight="bold" fill="#3c3c3c" stroke="#fff" stroke-opacity="0.8" stroke-width="1.7" paint-order="stroke" stroke-linejoin="round" textLength="47.5" lengthAdjust="spacing">HAMPSHIRE</text>
<text x="961.75" y="107.056" font-size="7.1" font-weight="bold" fill="#3c3c3c" stroke="#fff" stroke-opacity="0.8" stroke-width="1.7" paint-order="stroke" stroke-linejoin="round" textLength="16.25" lengthAdjust="spacing">NEW</text>
<text x="946" y="114.556" font-size="7.1" font-weight="bold" fill="#3c3c3c" stroke="#fff" stroke-opacity="0.8" stroke-width="1.7" paint-order="stroke" stroke-linejoin="round" textLength="47.75" lengthAdjust="spacing">BRUNSWICK</text>
<text x="1006.75" y="123.306" font-size="7.1" font-weight="bold" fill="#3c3c3c" stroke="#fff" stroke-opacity="0.8" stroke-width="1.7" paint-order="stroke" stroke-linejoin="round" textLength="29.25" lengthAdjust="spacing">PRINCE</text>
<text x="1006.75" y="130.556" font-size="7.1" font-weight="bold" fill="#3c3c3c" stroke="#fff" stroke-opacity="0.8" stroke-width="1.7" paint-order="stroke" stroke-linejoin="round" textLength="33.25" lengthAdjust="spacing">EDWARD</text>
<text x="1006.75" y="137.556" font-size="7.1" font-weight="bold" fill="#3c3c3c" stroke="#fff" stroke-opacity="0.8" stroke-width="1.7" paint-order="stroke" stroke-linejoin="round" textLength="29.25" lengthAdjust="spacing">ISLAND</text>
<text x="983" y="158.806" font-size="7.1" font-weight="bold" fill="#3c3c3c" stroke="#fff" stroke-opacity="0.8" stroke-width="1.7" paint-order="stroke" stroke-linejoin="round" textLength="55" lengthAdjust="spacing">NOVA SCOTIA</text>
<text x="795.5" y="197.556" font-size="7.1" font-weight="bold" fill="#3c3c3c" stroke="#fff" stroke-opacity="0.8" stroke-width="1.7" paint-order="stroke" stroke-linejoin="round" textLength="42.5" lengthAdjust="spacing">NEW YORK</text>
<text x="168.75" y="262.306" font-size="7.1" font-weight="bold" fill="#3c3c3c" stroke="#fff" stroke-opacity="0.8" stroke-width="1.7" paint-order="stroke" stroke-linejoin="round" textLength="32.5" lengthAdjust="spacing">NEVADA</text>
<text x="117" y="326.556" font-size="7.1" font-weight="bold" fill="#3c3c3c" stroke="#fff" stroke-opacity="0.8" stroke-width="1.7" paint-order="stroke" stroke-linejoin="round" textLength="48.5" lengthAdjust="spacing">CALIFORNIA</text>
<text x="253" y="276.556" font-size="7.1" font-weight="bold" fill="#3c3c3c" stroke="#fff" stroke-opacity="0.8" stroke-width="1.7" paint-order="stroke" stroke-linejoin="round" textLength="22.5" lengthAdjust="spacing">UTAH</text>
<text x="339" y="284.556" font-size="7.1" font-weight="bold" fill="#3c3c3c" stroke="#fff" stroke-opacity="0.8" stroke-width="1.7" paint-order="stroke" stroke-linejoin="round" textLength="43.75" lengthAdjust="spacing">COLORADO</text>
<text x="433" y="227.306" font-size="7.1" font-weight="bold" fill="#3c3c3c" stroke="#fff" stroke-opacity="0.8" stroke-width="1.7" paint-order="stroke" stroke-linejoin="round" textLength="43.5" lengthAdjust="spacing">NEBRASKA</text>
<text x="454.25" y="287.806" font-size="7.1" font-weight="bold" fill="#3c3c3c" stroke="#fff" stroke-opacity="0.8" stroke-width="1.7" paint-order="stroke" stroke-linejoin="round" textLength="33" lengthAdjust="spacing">KANSAS</text>
<text x="536.25" y="217.056" font-size="7.1" font-weight="bold" fill="#3c3c3c" stroke="#fff" stroke-opacity="0.8" stroke-width="1.7" paint-order="stroke" stroke-linejoin="round" textLength="20.75" lengthAdjust="spacing">IOWA</text>
<text x="590.75" y="253.806" font-size="7.1" font-weight="bold" fill="#3c3c3c" stroke="#fff" stroke-opacity="0.8" stroke-width="1.7" paint-order="stroke" stroke-linejoin="round" textLength="34.25" lengthAdjust="spacing">ILLINOIS</text>
<text x="643.25" y="253.806" font-size="7.1" font-weight="bold" fill="#3c3c3c" stroke="#fff" stroke-opacity="0.8" stroke-width="1.7" paint-order="stroke" stroke-linejoin="round" textLength="34.25" lengthAdjust="spacing">INDIANA</text>
<text x="702" y="251.556" font-size="7.1" font-weight="bold" fill="#3c3c3c" stroke="#fff" stroke-opacity="0.8" stroke-width="1.7" paint-order="stroke" stroke-linejoin="round" textLength="19.5" lengthAdjust="spacing">OHIO</text>
<text x="759" y="241.056" font-size="7.1" font-weight="bold" fill="#3c3c3c" stroke="#fff" stroke-opacity="0.8" stroke-width="1.7" paint-order="stroke" stroke-linejoin="round" textLength="63.5" lengthAdjust="spacing">PENNSYLVANIA</text>
<text x="542" y="291.806" font-size="7.1" font-weight="bold" fill="#3c3c3c" stroke="#fff" stroke-opacity="0.8" stroke-width="1.7" paint-order="stroke" stroke-linejoin="round" textLength="40" lengthAdjust="spacing">MISSOURI</text>
<text x="656.5" y="309.056" font-size="7.1" font-weight="bold" fill="#3c3c3c" stroke="#fff" stroke-opacity="0.8" stroke-width="1.7" paint-order="stroke" stroke-linejoin="round" textLength="42.5" lengthAdjust="spacing">KENTUCKY</text>
<text x="728.25" y="284.556" font-size="7.1" font-weight="bold" fill="#3c3c3c" stroke="#fff" stroke-opacity="0.8" stroke-width="1.7" paint-order="stroke" stroke-linejoin="round" textLength="22.5" lengthAdjust="spacing">WEST</text>
<text x="722" y="291.806" font-size="7.1" font-weight="bold" fill="#3c3c3c" stroke="#fff" stroke-opacity="0.8" stroke-width="1.7" paint-order="stroke" stroke-linejoin="round" textLength="35" lengthAdjust="spacing">VIRGINIA</text>
<text x="755.75" y="309.306" font-size="7.1" font-weight="bold" fill="#3c3c3c" stroke="#fff" stroke-opacity="0.8" stroke-width="1.7" paint-order="stroke" stroke-linejoin="round" textLength="35.25" lengthAdjust="spacing">VIRGINIA</text>
<text x="851" y="207.806" font-size="7.1" font-weight="bold" fill="#3c3c3c" stroke="#fff" stroke-opacity="0.8" stroke-width="1.7" paint-order="stroke" stroke-linejoin="round" textLength="72" lengthAdjust="spacing">MASSACHUSETTS</text>
<text x="861.75" y="225.806" font-size="7.1" font-weight="bold" fill="#3c3c3c" stroke="#fff" stroke-opacity="0.8" stroke-width="1.7" paint-order="stroke" stroke-linejoin="round" textLength="10" lengthAdjust="spacing">CT</text>
<text x="889.25" y="227.806" font-size="7.1" font-weight="bold" fill="#3c3c3c" stroke="#fff" stroke-opacity="0.8" stroke-width="1.7" paint-order="stroke" stroke-linejoin="round" textLength="7.5" lengthAdjust="spacing">RI</text>
<text x="834.25" y="263.306" font-size="7.1" font-weight="bold" fill="#3c3c3c" stroke="#fff" stroke-opacity="0.8" stroke-width="1.7" paint-order="stroke" stroke-linejoin="round" textLength="10" lengthAdjust="spacing">NJ</text>
<text x="779.25" y="268.306" font-size="7.1" font-weight="bold" fill="#3c3c3c" stroke="#fff" stroke-opacity="0.8" stroke-width="1.7" paint-order="stroke" stroke-linejoin="round" textLength="45" lengthAdjust="spacing">MARYLAND</text>
<text x="821.75" y="278.306" font-size="7.1" font-weight="bold" fill="#3c3c3c" stroke="#fff" stroke-opacity="0.8" stroke-width="1.7" paint-order="stroke" stroke-linejoin="round" textLength="9.5" lengthAdjust="spacing">DE</text>
<text x="248.25" y="368.556" font-size="7.1" font-weight="bold" fill="#3c3c3c" stroke="#fff" stroke-opacity="0.8" stroke-width="1.7" paint-order="stroke" stroke-linejoin="round" textLength="34" lengthAdjust="spacing">ARIZONA</text>
<text x="326.75" y="372.306" font-size="7.1" font-weight="bold" fill="#3c3c3c" stroke="#fff" stroke-opacity="0.8" stroke-width="1.7" paint-order="stroke" stroke-linejoin="round" textLength="52.25" lengthAdjust="spacing">NEW MEXICO</text>
<text x="464" y="341.806" font-size="7.1" font-weight="bold" fill="#3c3c3c" stroke="#fff" stroke-opacity="0.8" stroke-width="1.7" paint-order="stroke" stroke-linejoin="round" textLength="45.75" lengthAdjust="spacing">OKLAHOMA</text>
<text x="447.25" y="420.056" font-size="7.1" font-weight="bold" fill="#3c3c3c" stroke="#fff" stroke-opacity="0.8" stroke-width="1.7" paint-order="stroke" stroke-linejoin="round" textLength="25.5" lengthAdjust="spacing">TEXAS</text>
<text x="628.25" y="341.806" font-size="7.1" font-weight="bold" fill="#3c3c3c" stroke="#fff" stroke-opacity="0.8" stroke-width="1.7" paint-order="stroke" stroke-linejoin="round" textLength="46.75" lengthAdjust="spacing">TENNESSEE</text>
<text x="541.5" y="361.056" font-size="7.1" font-weight="bold" fill="#3c3c3c" stroke="#fff" stroke-opacity="0.8" stroke-width="1.7" paint-order="stroke" stroke-linejoin="round" textLength="43" lengthAdjust="spacing">ARKANSAS</text>
<text x="581.25" y="383.556" font-size="7.1" font-weight="bold" fill="#3c3c3c" stroke="#fff" stroke-opacity="0.8" stroke-width="1.7" paint-order="stroke" stroke-linejoin="round" textLength="49.5" lengthAdjust="spacing">MISSISSIPPI</text>
<text x="632" y="394.806" font-size="7.1" font-weight="bold" fill="#3c3c3c" stroke="#fff" stroke-opacity="0.8" stroke-width="1.7" paint-order="stroke" stroke-linejoin="round" textLength="39.25" lengthAdjust="spacing">ALABAMA</text>
<text x="686.25" y="400.806" font-size="7.1" font-weight="bold" fill="#3c3c3c" stroke="#fff" stroke-opacity="0.8" stroke-width="1.7" paint-order="stroke" stroke-linejoin="round" textLength="35.75" lengthAdjust="spacing">GEORGIA</text>
<text x="552.5" y="440.556" font-size="7.1" font-weight="bold" fill="#3c3c3c" stroke="#fff" stroke-opacity="0.8" stroke-width="1.7" paint-order="stroke" stroke-linejoin="round" textLength="43.25" lengthAdjust="spacing">LOUISIANA</text>
<text x="756.6" y="340.256" font-size="7.1" font-weight="bold" fill="#3c3c3c" stroke="#fff" stroke-opacity="0.8" stroke-width="1.7" paint-order="stroke" stroke-linejoin="round" textLength="27.4" lengthAdjust="spacing">NORTH</text>
<text x="750" y="347.556" font-size="7.1" font-weight="bold" fill="#3c3c3c" stroke="#fff" stroke-opacity="0.8" stroke-width="1.7" paint-order="stroke" stroke-linejoin="round" textLength="40.6" lengthAdjust="spacing">CAROLINA</text>
<text x="734.4" y="372.856" font-size="7.1" font-weight="bold" fill="#3c3c3c" stroke="#fff" stroke-opacity="0.8" stroke-width="1.7" paint-order="stroke" stroke-linejoin="round" textLength="26.1" lengthAdjust="spacing">SOUTH</text>
<text x="727" y="380.256" font-size="7.1" font-weight="bold" fill="#3c3c3c" stroke="#fff" stroke-opacity="0.8" stroke-width="1.7" paint-order="stroke" stroke-linejoin="round" textLength="40" lengthAdjust="spacing">CAROLINA</text>
<text x="719.5" y="492.556" font-size="7.1" font-weight="bold" fill="#3c3c3c" stroke="#fff" stroke-opacity="0.8" stroke-width="1.7" paint-order="stroke" stroke-linejoin="round" textLength="33.75" lengthAdjust="spacing">FLORIDA</text>
<text x="199.25" y="428.056" font-size="7.1" font-weight="bold" fill="#3c3c3c" stroke="#fff" stroke-opacity="0.8" stroke-width="1.7" paint-order="stroke" stroke-linejoin="round" textLength="20.75" lengthAdjust="spacing">BAJA</text>
<text x="185.5" y="436.056" font-size="7.1" font-weight="bold" fill="#3c3c3c" stroke="#fff" stroke-opacity="0.8" stroke-width="1.7" paint-order="stroke" stroke-linejoin="round" textLength="48.75" lengthAdjust="spacing">CALIFORNIA</text>
<text x="269" y="442.306" font-size="7.1" font-weight="bold" fill="#3c3c3c" stroke="#fff" stroke-opacity="0.8" stroke-width="1.7" paint-order="stroke" stroke-linejoin="round" textLength="33.75" lengthAdjust="spacing">SONORA</text>
<text x="332.25" y="456.306" font-size="7.1" font-weight="bold" fill="#3c3c3c" stroke="#fff" stroke-opacity="0.8" stroke-width="1.7" paint-order="stroke" stroke-linejoin="round" textLength="48" lengthAdjust="spacing">CHIHUAHUA</text>
<text x="399" y="480.806" font-size="7.1" font-weight="bold" fill="#3c3c3c" stroke="#fff" stroke-opacity="0.8" stroke-width="1.7" paint-order="stroke" stroke-linejoin="round" textLength="40.75" lengthAdjust="spacing">COAHUILA</text>
<text x="420.25" y="507.056" font-size="7.1" font-weight="bold" fill="#3c3c3c" stroke="#fff" stroke-opacity="0.8" stroke-width="1.7" paint-order="stroke" stroke-linejoin="round" textLength="51.25" lengthAdjust="spacing">NUEVO LEON</text>
<text x="312.25" y="531.556" font-size="7.1" font-weight="bold" fill="#3c3c3c" stroke="#fff" stroke-opacity="0.8" stroke-width="1.7" paint-order="stroke" stroke-linejoin="round" textLength="35.5" lengthAdjust="spacing">SINALOA</text>
<text x="354.25" y="534.806" font-size="7.1" font-weight="bold" fill="#3c3c3c" stroke="#fff" stroke-opacity="0.8" stroke-width="1.7" paint-order="stroke" stroke-linejoin="round" textLength="39.75" lengthAdjust="spacing">DURANGO</text>
<text x="255" y="529.056" font-size="7.1" font-weight="bold" fill="#3c3c3c" stroke="#fff" stroke-opacity="0.8" stroke-width="1.7" paint-order="stroke" stroke-linejoin="round" textLength="21" lengthAdjust="spacing">BAJA</text>
<text x="232" y="536.556" font-size="7.1" font-weight="bold" fill="#3c3c3c" stroke="#fff" stroke-opacity="0.8" stroke-width="1.7" paint-order="stroke" stroke-linejoin="round" textLength="66.5" lengthAdjust="spacing">CALIFORNIA SUR</text>
<text x="384" y="265.3" font-size="12" font-weight="bold" fill="#111" stroke="#111" stroke-width="0.3" textLength="80.7" lengthAdjust="spacingAndGlyphs">United States</text>
<circle cx="95" cy="139.5" r="1.5" fill="#fff" stroke="#444" stroke-width="0.8"/>
<text x="98" y="143.256" font-size="9.6" font-weight="bold" fill="#1e1e1e" stroke="none" filter="url(#halo)" textLength="35.75" lengthAdjust="spacingAndGlyphs">Portland</text>
<circle cx="195.5" cy="180" r="1.5" fill="#fff" stroke="#444" stroke-width="0.8"/>
<text x="174.5" y="182.772" font-size="7.7" font-weight="bold" fill="#2c2c2c" stroke="none" filter="url(#halo)" textLength="18" lengthAdjust="spacingAndGlyphs">Boise</text>
<circle cx="274" cy="135.5" r="1.5" fill="#fff" stroke="#444" stroke-width="0.8"/>
<text x="277.25" y="138.914" font-size="7.4" font-weight="bold" fill="#333" stroke="none" filter="url(#halo)" textLength="28.25" lengthAdjust="spacingAndGlyphs">Bozeman</text>
<circle cx="314" cy="133.75" r="1.5" fill="#fff" stroke="#444" stroke-width="0.8"/>
<text x="316.75" y="136.914" font-size="7.4" font-weight="bold" fill="#333" stroke="none" filter="url(#halo)" textLength="22.25" lengthAdjust="spacingAndGlyphs">Billings</text>
<circle cx="550" cy="151.75" r="1.5" fill="#fff" stroke="#444" stroke-width="0.8"/>
<text x="495.5" y="154.956" font-size="9.6" font-weight="bold" fill="#1e1e1e" stroke="none" filter="url(#halo)" textLength="51.5" lengthAdjust="spacingAndGlyphs">Minneapolis</text>
<circle cx="764.5" cy="180" r="1.5" fill="#fff" stroke="#444" stroke-width="0.8"/>
<text x="729.5" y="183.456" font-size="9.6" font-weight="bold" fill="#1e1e1e" stroke="none" filter="url(#halo)" textLength="31.25" lengthAdjust="spacingAndGlyphs">Toronto</text>
<circle cx="821" cy="141.75" r="1.5" fill="#fff" stroke="#444" stroke-width="0.8"/>
<text x="788" y="145.206" font-size="9.6" font-weight="bold" fill="#1e1e1e" stroke="none" filter="url(#halo)" textLength="30" lengthAdjust="spacingAndGlyphs">Ottawa</text>
<circle cx="854.75" cy="140" r="1.5" fill="#fff" stroke="#444" stroke-width="0.8"/>
<text x="858" y="143.956" font-size="9.6" font-weight="bold" fill="#1e1e1e" stroke="none" filter="url(#halo)" textLength="37.5" lengthAdjust="spacingAndGlyphs">Montreal</text>
<circle cx="113.25" cy="284" r="1.5" fill="#fff" stroke="#444" stroke-width="0.8"/>
<text x="116.75" y="287.956" font-size="9.6" font-weight="bold" fill="#1e1e1e" stroke="none" filter="url(#halo)" textLength="50.25" lengthAdjust="spacingAndGlyphs">Sacramento</text>
<circle cx="99.25" cy="300" r="1.5" fill="#fff" stroke="#444" stroke-width="0.8"/>
<text x="102.5" y="303.706" font-size="9.6" font-weight="bold" fill="#1e1e1e" stroke="none" filter="url(#halo)" textLength="59.25" lengthAdjust="spacingAndGlyphs">San Francisco</text>
<circle cx="261" cy="240.25" r="1.5" fill="#fff" stroke="#444" stroke-width="0.8"/>
<text x="264" y="243.522" font-size="7.7" font-weight="bold" fill="#2c2c2c" stroke="none" filter="url(#halo)" textLength="45.25" lengthAdjust="spacingAndGlyphs">Salt Lake City</text>
<circle cx="368.5" cy="260.75" r="1.5" fill="#fff" stroke="#444" stroke-width="0.8"/>
<text x="336.5" y="264.706" font-size="9.6" font-weight="bold" fill="#1e1e1e" stroke="none" filter="url(#halo)" textLength="28.75" lengthAdjust="spacingAndGlyphs">Denver</text>
<circle cx="507.25" cy="230.25" r="1.5" fill="#fff" stroke="#444" stroke-width="0.8"/>
<text x="510.5" y="233.022" font-size="7.7" font-weight="bold" fill="#2c2c2c" stroke="none" filter="url(#halo)" textLength="24" lengthAdjust="spacingAndGlyphs">Omaha</text>
<circle cx="637" cy="217.25" r="1.5" fill="#fff" stroke="#444" stroke-width="0.8"/>
<text x="640.25" y="221.206" font-size="9.6" font-weight="bold" fill="#1e1e1e" stroke="none" filter="url(#halo)" textLength="34.25" lengthAdjust="spacingAndGlyphs">Chicago</text>
<circle cx="529.5" cy="274" r="1.5" fill="#fff" stroke="#444" stroke-width="0.8"/>
<text x="532.75" y="277.956" font-size="9.6" font-weight="bold" fill="#1e1e1e" stroke="none" filter="url(#halo)" textLength="50" lengthAdjust="spacingAndGlyphs">Kansas City</text>
<circle cx="597" cy="283.25" r="1.5" fill="#fff" stroke="#444" stroke-width="0.8"/>
<text x="600" y="286.956" font-size="9.6" font-weight="bold" fill="#1e1e1e" stroke="none" filter="url(#halo)" textLength="36.25" lengthAdjust="spacingAndGlyphs">St. Louis</text>
<circle cx="685.75" cy="274" r="1.5" fill="#fff" stroke="#444" stroke-width="0.8"/>
<text x="640.25" y="277.956" font-size="9.6" font-weight="bold" fill="#1e1e1e" stroke="none" filter="url(#halo)" textLength="42.25" lengthAdjust="spacingAndGlyphs">Cincinnati</text>
<circle cx="848" cy="240.75" r="1.5" fill="#fff" stroke="#444" stroke-width="0.8"/>
<text x="851.25" y="244.706" font-size="9.6" font-weight="bold" fill="#1e1e1e" stroke="none" filter="url(#halo)" textLength="40.5" lengthAdjust="spacingAndGlyphs">New York</text>
<circle cx="212.5" cy="331" r="1.5" fill="#fff" stroke="#444" stroke-width="0.8"/>
<text x="215.5" y="334.956" font-size="9.6" font-weight="bold" fill="#1e1e1e" stroke="none" filter="url(#halo)" textLength="41" lengthAdjust="spacingAndGlyphs">Las Vegas</text>
<circle cx="163.75" cy="371" r="1.5" fill="#fff" stroke="#444" stroke-width="0.8"/>
<text x="167" y="374.956" font-size="9.6" font-weight="bold" fill="#1e1e1e" stroke="none" filter="url(#halo)" textLength="51.25" lengthAdjust="spacingAndGlyphs">Los Angeles</text>
<circle cx="180.5" cy="395.5" r="1.5" fill="#fff" stroke="#444" stroke-width="0.8"/>
<text x="134.5" y="398.956" font-size="9.6" font-weight="bold" fill="#1e1e1e" stroke="none" filter="url(#halo)" textLength="42.5" lengthAdjust="spacingAndGlyphs">San Diego</text>
<circle cx="342.75" cy="351" r="1.5" fill="#fff" stroke="#444" stroke-width="0.8"/>
<text x="346" y="354.956" font-size="9.6" font-weight="bold" fill="#1e1e1e" stroke="none" filter="url(#halo)" textLength="53.75" lengthAdjust="spacingAndGlyphs">Albuquerque</text>
<circle cx="259" cy="382.25" r="1.5" fill="#fff" stroke="#444" stroke-width="0.8"/>
<text x="262" y="385.956" font-size="9.6" font-weight="bold" fill="#1e1e1e" stroke="none" filter="url(#halo)" textLength="33.5" lengthAdjust="spacingAndGlyphs">Phoenix</text>
<circle cx="276" cy="404.25" r="1.5" fill="#fff" stroke="#444" stroke-width="0.8"/>
<text x="279.25" y="407.956" font-size="9.6" font-weight="bold" fill="#1e1e1e" stroke="none" filter="url(#halo)" textLength="30.5" lengthAdjust="spacingAndGlyphs">Tucson</text>
<circle cx="486.5" cy="395" r="1.5" fill="#fff" stroke="#444" stroke-width="0.8"/>
<text x="438.5" y="398.456" font-size="9.6" font-weight="bold" fill="#1e1e1e" stroke="none" filter="url(#halo)" textLength="45" lengthAdjust="spacingAndGlyphs">Fort Worth</text>
<circle cx="495.25" cy="395" r="1.5" fill="#fff" stroke="#444" stroke-width="0.8"/>
<text x="498" y="398.456" font-size="9.6" font-weight="bold" fill="#1e1e1e" stroke="none" filter="url(#halo)" textLength="25.75" lengthAdjust="spacingAndGlyphs">Dallas</text>
<circle cx="481" cy="440.75" r="1.5" fill="#fff" stroke="#444" stroke-width="0.8"/>
<text x="484" y="444.456" font-size="9.6" font-weight="bold" fill="#1e1e1e" stroke="none" filter="url(#halo)" textLength="28.5" lengthAdjust="spacingAndGlyphs">Austin</text>
<circle cx="468.5" cy="456" r="1.5" fill="#fff" stroke="#444" stroke-width="0.8"/>
<text x="414.75" y="459.456" font-size="9.6" font-weight="bold" fill="#1e1e1e" stroke="none" filter="url(#halo)" textLength="50" lengthAdjust="spacingAndGlyphs">San Antonio</text>
<circle cx="517.5" cy="449.5" r="1.5" fill="#fff" stroke="#444" stroke-width="0.8"/>
<text x="520.75" y="453.706" font-size="9.6" font-weight="bold" fill="#1e1e1e" stroke="none" filter="url(#halo)" textLength="36.25" lengthAdjust="spacingAndGlyphs">Houston</text>
<circle cx="598.75" cy="350" r="1.5" fill="#fff" stroke="#444" stroke-width="0.8"/>
<text x="602" y="353.272" font-size="7.7" font-weight="bold" fill="#2c2c2c" stroke="none" filter="url(#halo)" textLength="30.5" lengthAdjust="spacingAndGlyphs">Memphis</text>
<circle cx="598.75" cy="446" r="1.5" fill="#fff" stroke="#444" stroke-width="0.8"/>
<text x="602" y="448.772" font-size="7.7" font-weight="bold" fill="#2c2c2c" stroke="none" filter="url(#halo)" textLength="41.75" lengthAdjust="spacingAndGlyphs">New Orleans</text>
<circle cx="741.5" cy="348.75" r="1.5" fill="#fff" stroke="#444" stroke-width="0.8"/>
<text x="700" y="352.706" font-size="9.6" font-weight="bold" fill="#1e1e1e" stroke="none" filter="url(#halo)" textLength="38.25" lengthAdjust="spacingAndGlyphs">Charlotte</text>
<circle cx="687.75" cy="376" r="1.5" fill="#fff" stroke="#444" stroke-width="0.8"/>
<text x="690.75" y="379.956" font-size="9.6" font-weight="bold" fill="#1e1e1e" stroke="none" filter="url(#halo)" textLength="30" lengthAdjust="spacingAndGlyphs">Atlanta</text>
<circle cx="730" cy="439.25" r="1.5" fill="#fff" stroke="#444" stroke-width="0.8"/>
<text x="733" y="443.206" font-size="9.6" font-weight="bold" fill="#1e1e1e" stroke="none" filter="url(#halo)" textLength="51.5" lengthAdjust="spacingAndGlyphs">Jacksonville</text>
<circle cx="733.75" cy="470" r="1.5" fill="#fff" stroke="#444" stroke-width="0.8"/>
<text x="737" y="473.956" font-size="9.6" font-weight="bold" fill="#1e1e1e" stroke="none" filter="url(#halo)" textLength="32" lengthAdjust="spacingAndGlyphs">Orlando</text>
<circle cx="717.5" cy="481" r="1.5" fill="#fff" stroke="#444" stroke-width="0.8"/>
<text x="685.75" y="484.706" font-size="9.6" font-weight="bold" fill="#1e1e1e" stroke="none" filter="url(#halo)" textLength="28.25" lengthAdjust="spacingAndGlyphs">Tampa</text>
<circle cx="751.25" cy="518.5" r="1.5" fill="#fff" stroke="#444" stroke-width="0.8"/>
<text x="754.5" y="522.206" font-size="9.6" font-weight="bold" fill="#1e1e1e" stroke="none" filter="url(#halo)" textLength="26" lengthAdjust="spacingAndGlyphs">Miami</text>
<circle cx="440.5" cy="520" r="1.5" fill="#fff" stroke="#444" stroke-width="0.8"/>
<text x="444" y="523.956" font-size="9.6" font-weight="bold" fill="#1e1e1e" stroke="none" filter="url(#halo)" textLength="42.5" lengthAdjust="spacingAndGlyphs">Monterrey</text>
<text x="971.75" y="406.024" font-size="8.4" font-weight="bold" fill="#222" stroke="none" filter="url(#halo2)" textLength="38" lengthAdjust="spacingAndGlyphs">Bermuda</text>
<text x="777.5" y="535.024" font-size="8.4" font-weight="bold" fill="#222" stroke="none" filter="url(#halo2)" textLength="15.5" lengthAdjust="spacingAndGlyphs">The</text>
<text x="587.75" y="525.13" font-size="8" font-weight="bold" fill="#555" stroke="none" filter="url(#halo2)" textLength="22.25" lengthAdjust="spacingAndGlyphs">Gulf of</text>
<text x="585.25" y="534.13" font-size="8" font-weight="bold" fill="#555" stroke="none" filter="url(#halo2)" textLength="27.5" lengthAdjust="spacingAndGlyphs">America</text>
<text transform="translate(251,472.5) rotate(54)" font-size="8" fill="#4a4a4a" stroke="#fff" stroke-opacity="0.5" stroke-width="0.8" paint-order="stroke" textLength="57" lengthAdjust="spacingAndGlyphs">Gulf of California</text>
</g>
</svg>
<div id="hdr">
<div class="logo" style="left:31px">D</div><div class="logo" style="left:57px">A</div><div class="logo" style="left:82px">T</div>
<div class="t1">Market Conditions</div>
<div class="t2">Van |<span style="margin-left:10px">November 9, 2025</span></div>
</div>
<div id="leg"><div class="ttl">MCI - Vans</div>
<div class="bar"><i style="background:#1551c9"></i><i style="background:#3b93d0"></i><i style="background:#98dcc6"></i><i style="background:#fde497"></i><i style="background:#fdbc90"></i><i style="background:#f0834d"></i><i style="background:#c9021f"></i></div>
<span class="lb" style="left:15px">-100</span><span class="lb" style="left:42px">-36</span><span class="lb" style="left:68px">-31</span><span class="lb" style="left:94px">-21</span><span class="lb" style="left:119px">+9</span><span class="lb" style="left:146px">+34</span><span class="lb" style="left:170px">+44</span><span class="lb" style="left:196px">+100</span>
</div>
</body></html>
